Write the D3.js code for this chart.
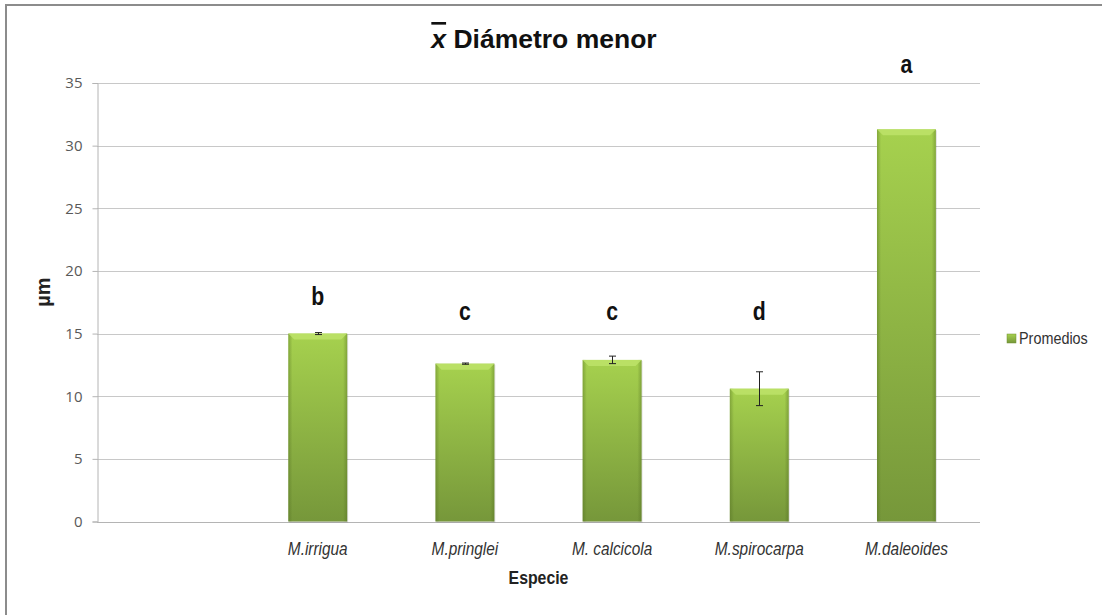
<!DOCTYPE html>
<html><head><meta charset="utf-8">
<script src="https://cdn.jsdelivr.net/npm/d3@7"></script>
<style>
body{margin:0;background:#fff;}
svg{display:block;}
</style></head>
<body>
<svg id="c" width="1102" height="615"></svg>
<script>
const categories = ["", "M.irrigua", "M.pringlei", "M. calcicola", "M.spirocarpa", "M.daleoides"];
const means = [null, 15.0, 12.6, 12.9, 10.6, 31.3];
const errors = [null, 0.08, 0.05, 0.3, 1.35, 0];
const letters = ["", "b", "c", "c", "d", "a"];
const letterPos = [null, 17.3, 16.1, 16.1, 16.1, 35.8];
const yTicks = [0, 5, 10, 15, 20, 25, 30, 35];
const seriesName = "Promedios";

const svg = d3.select("#c");
const M = {left: 97, right: 980, top: 83, bottom: 521.5};
const SANS = "'Liberation Sans','Arial',sans-serif";

const defs = svg.append("defs");
const g1 = defs.append("linearGradient").attr("id","barg").attr("x1",0).attr("y1",0).attr("x2",0).attr("y2",1);
g1.append("stop").attr("offset","0%").attr("stop-color","#a6d14e");
g1.append("stop").attr("offset","100%").attr("stop-color","#76973a");
const g2 = defs.append("linearGradient").attr("id","edge").attr("x1",0).attr("y1",0).attr("x2",1).attr("y2",0);
g2.append("stop").attr("offset","0%").attr("stop-color","#4f6a1f").attr("stop-opacity",0.4);
g2.append("stop").attr("offset","7%").attr("stop-color","#4f6a1f").attr("stop-opacity",0);
g2.append("stop").attr("offset","93%").attr("stop-color","#4f6a1f").attr("stop-opacity",0);
g2.append("stop").attr("offset","100%").attr("stop-color","#4f6a1f").attr("stop-opacity",0.4);

// frame
svg.append("line").attr("x1",6).attr("y1",5).attr("x2",6).attr("y2",615).attr("stroke","#8c8c8c").attr("stroke-width",2);
svg.append("line").attr("x1",5).attr("y1",5).attr("x2",1102).attr("y2",5).attr("stroke","#8c8c8c").attr("stroke-width",2);

const x = d3.scaleBand().domain(categories.map((d,i)=>i)).range([M.left, M.right]).paddingInner(0.6).paddingOuter(0.3);
const y = d3.scaleLinear().domain([0,35]).range([M.bottom, M.top]);

// gridlines
svg.append("g").selectAll("line").data(yTicks.filter(t=>t>0)).join("line")
  .attr("x1",M.left).attr("x2",M.right).attr("y1",d=>Math.round(y(d))+0.5).attr("y2",d=>Math.round(y(d))+0.5)
  .attr("stroke","#c8c8c8").attr("stroke-width",1);

// y axis
const ya = svg.append("g").attr("transform",`translate(${M.left+0.5},0)`)
  .call(d3.axisLeft(y).tickValues(yTicks).tickSize(5).tickPadding(10).tickFormat(d3.format("d")));
ya.select(".domain").attr("stroke","#b4b4b4");
ya.selectAll(".tick line").attr("stroke","#b4b4b4");
ya.selectAll(".tick text").attr("fill","#595959").style("font-family","'Open Sans','Liberation Sans',sans-serif").style("font-size","15px");

// x axis line
svg.append("line").attr("x1",M.left).attr("x2",M.right).attr("y1",Math.round(M.bottom)+0.5).attr("y2",Math.round(M.bottom)+0.5).attr("stroke","#b4b4b4");

// bars
const data = categories.map((c,i)=>({i, c, v: means[i], e: errors[i], l: letters[i], lp: letterPos[i]})).filter(d=>d.v!=null);
const bars = svg.append("g");
bars.selectAll("rect.shadow").data(data).join("rect")
  .attr("x",d=>x(d.i)+1).attr("y",d=>y(d.v)+1).attr("width",x.bandwidth()).attr("height",d=>y(0)-y(d.v))
  .attr("fill","#000").attr("opacity",0.12);
bars.selectAll("rect.bar").data(data).join("rect")
  .attr("x",d=>x(d.i)).attr("y",d=>y(d.v)).attr("width",x.bandwidth()).attr("height",d=>y(0)-y(d.v))
  .attr("fill","url(#barg)");
bars.selectAll("rect.edge").data(data).join("rect")
  .attr("x",d=>x(d.i)).attr("y",d=>y(d.v)).attr("width",x.bandwidth()).attr("height",d=>y(0)-y(d.v))
  .attr("fill","url(#edge)");
bars.selectAll("path.bev").data(data).join("path")
  .attr("d",d=>{const x0=x(d.i), x1=x0+x.bandwidth(), t=y(d.v), b=6;
    return `M${x0},${t} L${x1},${t} L${x1-b},${t+b} L${x0+b},${t+b} Z`;})
  .attr("fill","#bde36a").attr("opacity",0.85);

// error bars
const eb = svg.append("g").attr("stroke","#222").attr("stroke-width",1);
data.filter(d=>d.e>0).forEach(d=>{
  const cx = Math.round(x(d.i)+x.bandwidth()/2)+0.5;
  eb.append("line").attr("x1",cx).attr("x2",cx).attr("y1",y(d.v+d.e)).attr("y2",y(d.v-d.e));
  eb.append("line").attr("x1",cx-3.5).attr("x2",cx+3.5).attr("y1",y(d.v+d.e)).attr("y2",y(d.v+d.e));
  eb.append("line").attr("x1",cx-3.5).attr("x2",cx+3.5).attr("y1",y(d.v-d.e)).attr("y2",y(d.v-d.e));
});

// letters (condensed)
svg.append("g").selectAll("text").data(data).join("text")
  .attr("transform",d=>`translate(${x(d.i)+x.bandwidth()/2},${y(d.lp)}) scale(0.85,1)`)
  .attr("text-anchor","middle")
  .style("font-family",SANS).style("font-weight","bold").style("font-size","25px").attr("fill","#111")
  .text(d=>d.l);

// category labels
svg.append("g").selectAll("text").data(data).join("text")
  .attr("transform",d=>`translate(${x(d.i)+x.bandwidth()/2},555) scale(0.88,1)`)
  .attr("text-anchor","middle")
  .style("font-family",SANS).style("font-style","italic").style("font-size","17.5px").attr("fill","#333")
  .text(d=>d.c);

// axis titles
svg.append("text").attr("transform",`translate(${(M.left+M.right)/2},584) scale(0.88,1)`).attr("text-anchor","middle")
  .style("font-family",SANS).style("font-weight","bold").style("font-size","18px").attr("fill","#222").text("Especie");
svg.append("text").attr("transform","translate(50,292) rotate(-90)").attr("text-anchor","middle")
  .style("font-family",SANS).style("font-weight","bold").style("font-size","20px").attr("fill","#222").text("µm");

// title
const title = svg.append("text").attr("x",544).attr("y",48).attr("text-anchor","middle")
  .style("font-family",SANS).style("font-weight","bold").style("font-size","26.5px").attr("fill","#111");
title.append("tspan").style("font-style","italic").style("text-decoration","overline").text("x");
title.append("tspan").text(" Diámetro menor");

// legend
const lg = svg.append("g").attr("transform","translate(1007,334)");
lg.append("rect").attr("width",9).attr("height",9).attr("fill","url(#barg)").attr("stroke","#6f8f33").attr("stroke-width",0.5);
lg.append("text").attr("transform","translate(12,10) scale(0.9,1)")
  .style("font-family",SANS).style("font-size","16px").attr("fill","#333").text(seriesName);
</script>
</body></html>
